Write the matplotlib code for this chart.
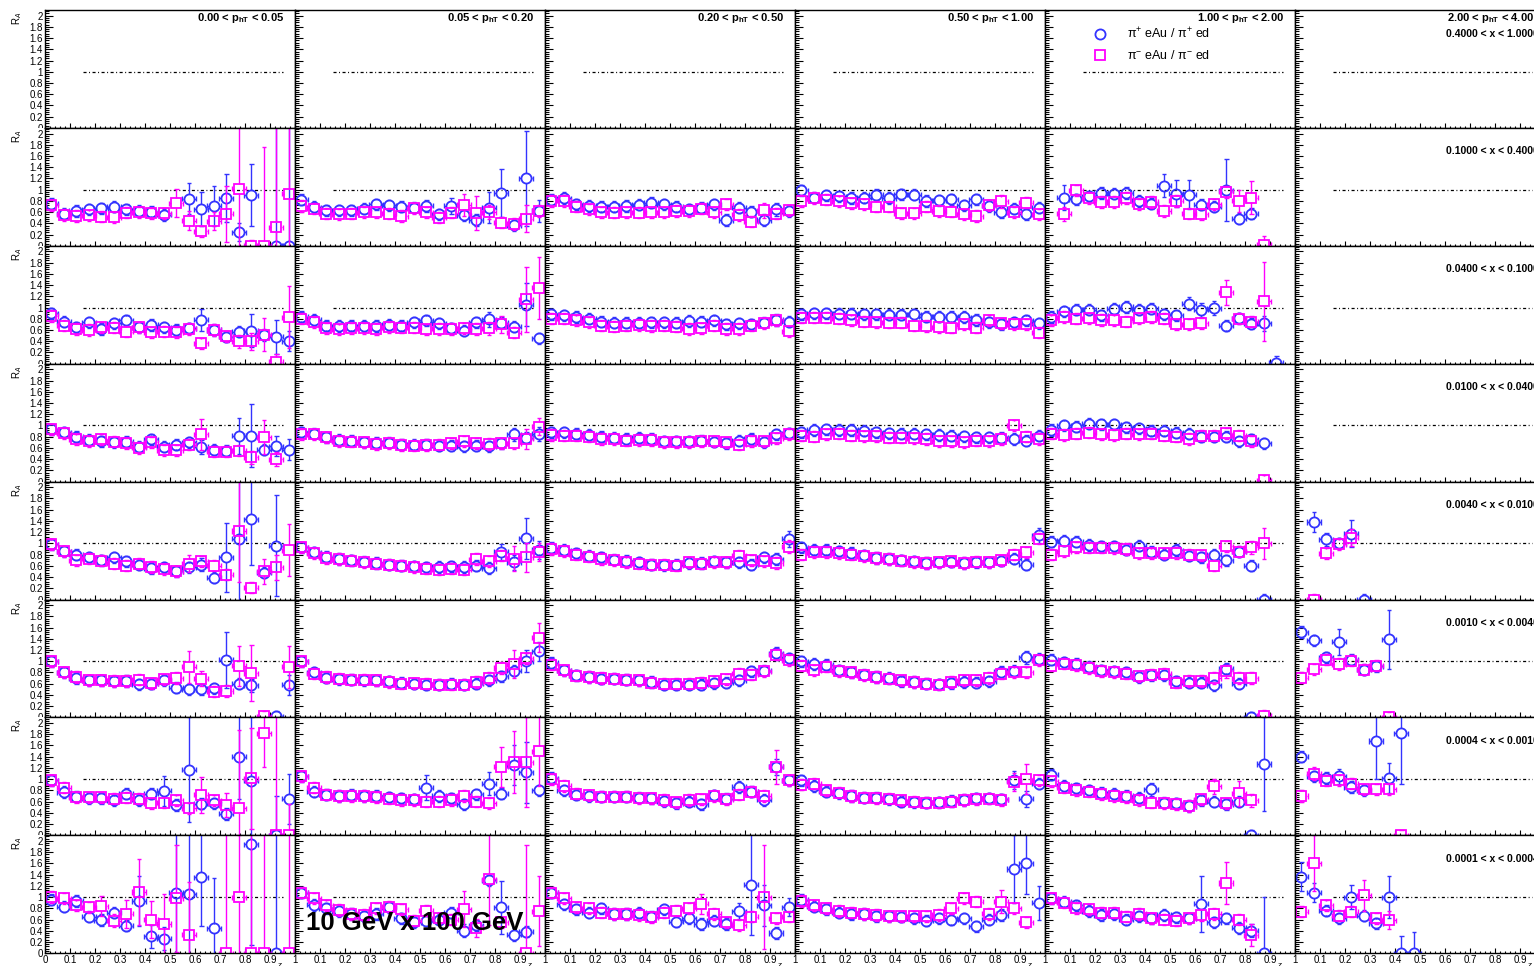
import numpy as np
import matplotlib
matplotlib.use('Agg')
import matplotlib.pyplot as plt
from matplotlib.lines import Line2D
from matplotlib.transforms import Bbox, TransformedBbox

plt.rcParams['font.family'] = ['Liberation Sans', 'DejaVu Sans']
plt.rcParams['mathtext.fontset'] = 'custom'
plt.rcParams['mathtext.rm'] = 'Liberation Sans'
plt.rcParams['mathtext.bf'] = 'Liberation Sans:bold'
plt.rcParams['mathtext.it'] = 'Liberation Sans:italic'
plt.rcParams['lines.scale_dashes'] = False

nan = np.nan

# ---- data -------------------------------------------------------------
z_centers = [0.025, 0.075, 0.125, 0.175, 0.225, 0.275, 0.325, 0.375, 0.425, 0.475,
             0.525, 0.575, 0.625, 0.675, 0.725, 0.775, 0.825, 0.875, 0.925, 0.975]

pt_labels = [r'0.00 < p$_{\mathbf{hT}}$ < 0.05', r'0.05 < p$_{\mathbf{hT}}$ < 0.20',
             r'0.20 < p$_{\mathbf{hT}}$ < 0.50', r'0.50 < p$_{\mathbf{hT}}$ < 1.00',
             r'1.00 < p$_{\mathbf{hT}}$ < 2.00', r'2.00 < p$_{\mathbf{hT}}$ < 4.00']

x_labels = ['0.4000 < x < 1.0000', '0.1000 < x < 0.4000', '0.0400 < x < 0.1000',
            '0.0100 < x < 0.0400', '0.0040 < x < 0.0100', '0.0010 < x < 0.0040',
            '0.0004 < x < 0.0010', '0.0001 < x < 0.0004']

series_labels = ['π$^{+}$ eAu / π$^{+}$ ed', 'π$^{-}$ eAu / π$^{-}$ ed']

E = [nan] * 20  # empty pT bin

# R_A for pi+ (eAu/ed), one list of 20 z-bins per pT bin
pip_x0 = [E, E, E, E, E, E]
pip_x1 = [
    [0.75, 0.57, 0.62, 0.65, 0.67, 0.70, 0.65, 0.62, 0.61, 0.55, nan, 0.84, 0.65, 0.71, 0.85, 0.24, 0.90, nan, 0.0, 0.0],
    [0.82, 0.69, 0.63, 0.63, 0.63, 0.66, 0.74, 0.72, 0.70, 0.68, 0.71, 0.56, 0.71, 0.54, 0.46, 0.68, 0.94, 0.37, 1.20, 0.62],
    [0.82, 0.85, 0.74, 0.71, 0.70, 0.70, 0.71, 0.73, 0.77, 0.74, 0.70, 0.65, 0.68, 0.74, 0.46, 0.68, 0.61, 0.46, 0.65, 0.62],
    [0.99, 0.86, 0.90, 0.88, 0.85, 0.86, 0.91, 0.85, 0.92, 0.91, 0.80, 0.81, 0.83, 0.72, 0.83, 0.71, 0.60, 0.66, 0.56, 0.68],
    [nan, 0.86, 0.83, 0.88, 0.94, 0.93, 0.94, 0.80, 0.75, 1.07, 0.93, 0.91, 0.73, 0.70, 0.99, 0.48, 0.57, nan, nan, nan],
    E]
pip_x2 = [
    [0.90, 0.75, 0.65, 0.74, 0.62, 0.72, 0.77, 0.65, 0.69, 0.65, 0.60, 0.63, 0.78, 0.60, 0.48, 0.57, 0.59, 0.51, 0.48, 0.40],
    [0.84, 0.78, 0.68, 0.67, 0.68, 0.67, 0.67, 0.69, 0.68, 0.74, 0.77, 0.72, 0.63, 0.59, 0.74, 0.79, 0.73, 0.66, 1.05, 0.45],
    [0.88, 0.86, 0.83, 0.80, 0.75, 0.73, 0.73, 0.73, 0.74, 0.74, 0.73, 0.76, 0.75, 0.77, 0.70, 0.72, 0.70, 0.73, 0.78, 0.75],
    [0.88, 0.90, 0.90, 0.89, 0.89, 0.88, 0.88, 0.87, 0.87, 0.88, 0.84, 0.84, 0.84, 0.83, 0.78, 0.74, 0.70, 0.74, 0.77, 0.72],
    [0.83, 0.93, 0.96, 0.96, 0.86, 0.98, 1.01, 0.96, 0.98, 0.88, 0.86, 1.07, 0.96, 0.99, 0.68, 0.81, 0.71, 0.72, 0.02, nan],
    E]
pip_x3 = [
    [0.93, 0.88, 0.80, 0.74, 0.72, 0.70, 0.71, 0.62, 0.75, 0.62, 0.66, 0.70, 0.62, 0.57, 0.55, 0.82, 0.82, 0.57, 0.63, 0.57],
    [0.88, 0.85, 0.79, 0.74, 0.73, 0.70, 0.69, 0.69, 0.66, 0.66, 0.66, 0.64, 0.64, 0.63, 0.64, 0.63, 0.68, 0.84, 0.78, 0.85],
    [0.88, 0.88, 0.85, 0.83, 0.80, 0.78, 0.76, 0.78, 0.76, 0.72, 0.72, 0.72, 0.73, 0.71, 0.68, 0.73, 0.76, 0.70, 0.84, 0.86],
    [0.88, 0.92, 0.93, 0.92, 0.92, 0.91, 0.88, 0.86, 0.85, 0.85, 0.84, 0.83, 0.82, 0.81, 0.79, 0.79, 0.78, 0.76, 0.73, 0.82],
    [0.92, 1.00, 0.98, 1.03, 1.02, 1.02, 0.97, 0.95, 0.91, 0.91, 0.87, 0.85, 0.80, 0.80, 0.80, 0.72, 0.75, 0.68, nan, nan],
    E]
pip_x4 = [
    [0.98, 0.86, 0.80, 0.75, 0.70, 0.75, 0.68, 0.62, 0.56, 0.57, 0.50, 0.57, 0.62, 0.39, 0.75, 1.08, 1.43, 0.48, 0.96, nan],
    [0.93, 0.84, 0.76, 0.72, 0.70, 0.67, 0.65, 0.62, 0.60, 0.59, 0.57, 0.58, 0.59, 0.58, 0.60, 0.56, 0.85, 0.66, 1.09, 0.89],
    [0.92, 0.88, 0.82, 0.78, 0.75, 0.71, 0.69, 0.66, 0.62, 0.61, 0.62, 0.65, 0.65, 0.68, 0.66, 0.66, 0.62, 0.75, 0.72, 1.08],
    [0.93, 0.89, 0.89, 0.86, 0.83, 0.79, 0.74, 0.72, 0.70, 0.68, 0.65, 0.66, 0.67, 0.65, 0.66, 0.66, 0.69, 0.73, 0.62, 1.14],
    [1.03, 1.05, 1.03, 0.97, 0.95, 0.95, 0.89, 0.96, 0.85, 0.80, 0.88, 0.78, 0.75, 0.80, 0.70, 0.85, 0.60, 0.0, nan, nan],
    [nan, 1.38, 1.07, 1.00, 1.17, 0.0, nan, nan, nan, nan, nan, nan, nan, nan, nan, nan, nan, nan, nan, nan]]
pip_x5 = [
    [1.00, 0.80, 0.70, 0.66, 0.66, 0.64, 0.65, 0.59, 0.60, 0.66, 0.53, 0.50, 0.50, 0.52, 1.03, 0.60, 0.57, nan, 0.02, 0.58],
    [1.00, 0.80, 0.71, 0.68, 0.67, 0.66, 0.66, 0.64, 0.62, 0.60, 0.58, 0.58, 0.60, 0.58, 0.60, 0.66, 0.73, 0.83, 1.00, 1.18],
    [0.97, 0.84, 0.75, 0.72, 0.69, 0.69, 0.67, 0.66, 0.63, 0.58, 0.58, 0.58, 0.58, 0.61, 0.62, 0.66, 0.82, 0.83, 1.14, 1.05],
    [1.00, 0.95, 0.94, 0.84, 0.80, 0.76, 0.72, 0.70, 0.64, 0.63, 0.60, 0.59, 0.61, 0.63, 0.62, 0.64, 0.81, 0.83, 1.07, 1.04],
    [1.03, 0.98, 0.96, 0.90, 0.84, 0.82, 0.80, 0.72, 0.75, 0.75, 0.64, 0.62, 0.62, 0.57, 0.87, 0.60, 0.0, nan, nan, nan],
    [1.52, 1.37, 1.07, 1.35, 1.03, 0.85, 0.91, 1.39, nan, nan, nan, nan, nan, nan, nan, nan, nan, nan, nan, nan]]
pip_x6 = [
    [0.98, 0.77, 0.69, 0.66, 0.66, 0.62, 0.74, 0.63, 0.74, 0.79, 0.54, 1.17, 0.56, 0.57, 0.38, 1.40, 0.97, nan, 0.0, 0.65],
    [1.05, 0.78, 0.72, 0.70, 0.72, 0.70, 0.70, 0.68, 0.66, 0.64, 0.85, 0.70, 0.66, 0.55, 0.73, 0.92, 0.74, 1.25, 1.12, 0.80],
    [1.02, 0.80, 0.72, 0.70, 0.69, 0.69, 0.69, 0.67, 0.66, 0.61, 0.57, 0.60, 0.55, 0.71, 0.65, 0.86, 0.78, 0.63, 1.22, 0.98],
    [0.98, 0.88, 0.78, 0.75, 0.70, 0.67, 0.67, 0.64, 0.60, 0.59, 0.58, 0.59, 0.61, 0.63, 0.66, 0.66, 0.64, 0.98, 0.65, 0.92],
    [1.08, 0.88, 0.84, 0.80, 0.76, 0.74, 0.70, 0.67, 0.82, 0.58, 0.57, 0.52, 0.62, 0.60, 0.55, 0.60, 0.0, 1.27, nan, nan],
    [1.40, 1.05, 1.02, 1.05, 0.86, 0.80, 1.68, 1.02, 1.82, nan, nan, nan, nan, nan, nan, nan, nan, nan, nan, nan]]
pip_x7 = [
    [0.95, 0.83, 0.93, 0.65, 0.59, 0.72, 0.49, 0.93, 0.30, 0.26, 1.08, 1.05, 1.35, 0.44, nan, nan, 1.94, nan, 0.0, nan],
    [1.08, 0.86, 0.80, 0.75, 0.70, 0.66, 0.70, 0.82, 0.62, 0.55, 0.58, 0.60, 0.72, 0.40, 0.50, 1.30, 0.82, 0.33, 0.38, nan],
    [1.08, 0.87, 0.78, 0.72, 0.80, 0.70, 0.70, 0.72, 0.65, 0.78, 0.56, 0.62, 0.52, 0.58, 0.52, 0.75, 1.22, 0.85, 0.36, 0.82],
    [0.95, 0.83, 0.78, 0.72, 0.70, 0.70, 0.66, 0.66, 0.65, 0.62, 0.58, 0.62, 0.60, 0.62, 0.48, 0.60, 0.68, 1.50, 1.60, 0.90],
    [0.98, 0.92, 0.85, 0.75, 0.68, 0.70, 0.60, 0.66, 0.62, 0.68, 0.64, 0.62, 0.88, 0.55, 0.62, 0.45, 0.40, 0.0, nan, nan],
    [1.36, 1.08, 0.76, 0.62, 1.00, 0.67, 0.53, 1.00, 0.0, 0.0, nan, nan, nan, nan, nan, nan, nan, nan, nan, nan]]

# R_A for pi- (eAu/ed)
pim_x0 = [E, E, E, E, E, E]
pim_x1 = [
    [0.72, 0.55, 0.53, 0.54, 0.52, 0.51, 0.59, 0.60, 0.58, 0.58, 0.76, 0.45, 0.26, 0.44, 0.57, 1.02, 0.0, 0.0, 0.33, 0.93],
    [0.71, 0.66, 0.57, 0.56, 0.57, 0.60, 0.60, 0.57, 0.53, 0.67, 0.60, 0.50, 0.59, 0.73, 0.58, 0.60, 0.41, 0.39, 0.48, 0.62],
    [0.80, 0.80, 0.70, 0.65, 0.60, 0.59, 0.60, 0.59, 0.60, 0.60, 0.62, 0.62, 0.66, 0.60, 0.74, 0.55, 0.43, 0.63, 0.57, 0.63],
    [0.80, 0.85, 0.82, 0.79, 0.76, 0.74, 0.70, 0.70, 0.58, 0.58, 0.70, 0.62, 0.61, 0.56, 0.53, 0.72, 0.79, 0.60, 0.77, 0.56],
    [nan, 0.57, 0.99, 0.85, 0.78, 0.78, 0.85, 0.74, 0.78, 0.62, 0.80, 0.57, 0.56, 0.74, 0.96, 0.80, 0.86, 0.02, nan, nan],
    E]
pim_x2 = [
    [0.85, 0.68, 0.62, 0.60, 0.65, 0.64, 0.57, 0.65, 0.56, 0.57, 0.56, 0.62, 0.36, 0.60, 0.49, 0.40, 0.40, 0.52, 0.03, 0.83],
    [0.80, 0.74, 0.63, 0.61, 0.63, 0.63, 0.62, 0.65, 0.64, 0.64, 0.61, 0.62, 0.62, 0.63, 0.62, 0.63, 0.70, 0.55, 1.15, 1.35],
    [0.80, 0.80, 0.77, 0.74, 0.68, 0.66, 0.68, 0.69, 0.67, 0.68, 0.66, 0.62, 0.63, 0.68, 0.62, 0.62, 0.68, 0.72, 0.77, 0.58],
    [0.82, 0.82, 0.82, 0.80, 0.77, 0.75, 0.74, 0.73, 0.73, 0.68, 0.67, 0.65, 0.64, 0.70, 0.64, 0.77, 0.72, 0.70, 0.70, 0.55],
    [0.77, 0.83, 0.80, 0.81, 0.78, 0.77, 0.75, 0.81, 0.83, 0.80, 0.70, 0.70, 0.72, nan, 1.27, 0.80, 0.75, 1.11, nan, nan],
    E]
pim_x3 = [
    [0.93, 0.86, 0.75, 0.72, 0.75, 0.71, 0.68, 0.60, 0.70, 0.56, 0.56, 0.66, 0.84, 0.53, 0.53, 0.55, 0.43, 0.79, 0.40, nan],
    [0.84, 0.84, 0.79, 0.72, 0.71, 0.70, 0.67, 0.68, 0.65, 0.64, 0.65, 0.66, 0.68, 0.72, 0.68, 0.67, 0.68, 0.68, 0.76, 0.98],
    [0.83, 0.82, 0.82, 0.80, 0.76, 0.76, 0.73, 0.74, 0.74, 0.70, 0.70, 0.70, 0.72, 0.72, 0.70, 0.66, 0.72, 0.72, 0.77, 0.84],
    [0.82, 0.80, 0.84, 0.85, 0.82, 0.81, 0.81, 0.78, 0.78, 0.77, 0.76, 0.72, 0.72, 0.70, 0.73, 0.72, 0.76, 1.00, 0.80, 0.76],
    [0.85, 0.83, 0.85, 0.87, 0.84, 0.83, 0.85, 0.84, 0.85, 0.82, 0.80, 0.76, 0.82, 0.82, 0.86, 0.82, 0.72, 0.02, nan, nan],
    E]
pim_x4 = [
    [0.98, 0.86, 0.70, 0.73, 0.69, 0.64, 0.60, 0.64, 0.58, 0.54, 0.50, 0.64, 0.68, 0.60, 0.44, 1.22, 0.21, 0.50, 0.57, 0.88],
    [0.93, 0.82, 0.74, 0.72, 0.69, 0.66, 0.64, 0.62, 0.60, 0.57, 0.55, 0.53, 0.55, 0.53, 0.72, 0.68, 0.78, 0.73, 0.75, 0.85],
    [0.90, 0.86, 0.80, 0.76, 0.72, 0.70, 0.66, 0.64, 0.62, 0.62, 0.60, 0.66, 0.64, 0.66, 0.66, 0.78, 0.70, 0.68, 0.65, 0.94],
    [0.80, 0.84, 0.84, 0.82, 0.80, 0.77, 0.74, 0.72, 0.69, 0.66, 0.65, 0.66, 0.68, 0.65, 0.67, 0.66, 0.70, 0.80, 0.84, 1.08],
    [0.80, 0.86, 0.93, 0.92, 0.92, 0.91, 0.90, 0.82, 0.82, 0.82, 0.83, 0.80, 0.79, 0.60, 0.95, 0.85, 0.93, 1.00, nan, nan],
    [nan, 0.0, 0.82, 0.98, 1.10, nan, nan, nan, nan, nan, nan, nan, nan, nan, nan, nan, nan, nan, nan, nan]]
pim_x5 = [
    [1.00, 0.80, 0.72, 0.66, 0.66, 0.65, 0.65, 0.67, 0.61, 0.68, 0.70, 0.90, 0.69, 0.46, 0.47, 0.92, 0.79, 0.02, nan, 0.90],
    [1.00, 0.78, 0.72, 0.69, 0.67, 0.67, 0.66, 0.63, 0.60, 0.61, 0.60, 0.58, 0.58, 0.58, 0.63, 0.70, 0.88, 0.95, 1.05, 1.42],
    [0.94, 0.84, 0.74, 0.72, 0.70, 0.69, 0.67, 0.66, 0.62, 0.60, 0.60, 0.60, 0.62, 0.64, 0.68, 0.78, 0.76, 0.82, 1.12, 1.02],
    [0.92, 0.84, 0.90, 0.82, 0.80, 0.75, 0.72, 0.69, 0.66, 0.63, 0.60, 0.58, 0.63, 0.66, 0.66, 0.70, 0.78, 0.80, 0.80, 1.02],
    [0.92, 0.96, 0.93, 0.88, 0.82, 0.80, 0.78, 0.73, 0.76, 0.78, 0.62, 0.65, 0.65, 0.70, 0.82, 0.70, 0.70, 0.03, nan, nan],
    [0.71, 0.86, 1.03, 0.95, 1.01, 0.85, 0.92, 0.0, nan, nan, nan, nan, nan, nan, nan, nan, nan, nan, nan, nan]]
pim_x6 = [
    [0.98, 0.85, 0.68, 0.68, 0.68, 0.65, 0.67, 0.65, 0.57, 0.58, 0.62, 0.48, 0.72, 0.62, 0.54, 0.48, 1.02, 1.82, 0.0, 0.0],
    [1.05, 0.85, 0.72, 0.70, 0.70, 0.70, 0.68, 0.65, 0.63, 0.63, 0.60, 0.60, 0.63, 0.70, 0.60, 0.57, 1.22, 1.30, 1.30, 1.50],
    [1.00, 0.88, 0.74, 0.71, 0.69, 0.69, 0.69, 0.66, 0.66, 0.63, 0.59, 0.63, 0.64, 0.70, 0.64, 0.72, 0.78, 0.70, 1.22, 0.98],
    [0.90, 0.92, 0.80, 0.76, 0.70, 0.67, 0.66, 0.65, 0.62, 0.60, 0.58, 0.58, 0.60, 0.63, 0.64, 0.65, 0.63, 0.95, 1.00, 0.98],
    [0.96, 0.85, 0.80, 0.78, 0.73, 0.70, 0.68, 0.62, 0.58, 0.57, 0.55, 0.52, 0.64, 0.87, 0.57, 0.75, 0.62, nan, nan, nan],
    [0.70, 1.10, 0.97, 0.98, 0.92, 0.82, 0.82, 0.82, 0.0, nan, nan, nan, nan, nan, nan, nan, nan, nan, nan, nan]]
pim_x7 = [
    [1.00, 0.98, 0.85, 0.82, 0.84, 0.58, 0.70, 1.09, 0.60, 0.52, 0.98, 0.33, nan, nan, 0.0, 1.00, 0.0, 0.0, nan, 0.0],
    [1.08, 0.98, 0.85, 0.77, 0.70, 0.68, 0.80, 0.83, 0.78, 0.58, 0.76, 0.62, 0.60, 0.78, 0.45, 1.32, 0.55, nan, 0.0, 0.75],
    [1.08, 0.98, 0.82, 0.80, 0.72, 0.70, 0.70, 0.68, 0.64, 0.72, 0.76, 0.80, 0.88, 0.70, 0.55, 0.50, 0.65, 1.00, 0.62, 0.65],
    [0.93, 0.85, 0.80, 0.75, 0.72, 0.70, 0.68, 0.66, 0.66, 0.66, 0.66, 0.68, 0.80, 0.98, 0.92, 0.70, 0.92, 0.80, 0.55, nan],
    [0.98, 0.90, 0.80, 0.78, 0.72, 0.72, 0.65, 0.70, 0.62, 0.60, 0.58, 0.62, 0.68, 0.70, 1.25, 0.60, 0.32, nan, nan, nan],
    [0.74, 1.60, 0.85, 0.67, 0.74, 1.03, 0.62, 0.59, nan, nan, nan, nan, nan, nan, nan, nan, nan, nan, nan, nan]]

# statistical errors; points not listed carry the typical error
typical_err = 0.10
err_pip_x1 = {(0, 11): 0.27, (0, 12): 0.3, (0, 13): 0.36, (0, 14): 0.42, (0, 15): 0.16, (0, 16): 0.55,
              (0, 18): 2.2, (0, 19): 2.2, (1, 12): 0.14, (1, 15): 0.28, (1, 16): 0.42, (1, 18): 0.85,
              (1, 19): 0.2, (2, 18): 0.12, (4, 1): 0.22, (4, 9): 0.2, (4, 10): 0.24, (4, 11): 0.26, (4, 14): 0.55}
err_pim_x1 = {(0, 10): 0.25, (0, 11): 0.17, (0, 13): 0.16, (0, 14): 0.5, (0, 15): 1.1, (0, 17): 1.76,
              (0, 18): 1.8, (0, 19): 1.2, (1, 13): 0.2, (1, 14): 0.3, (1, 15): 0.13, (1, 18): 0.24,
              (2, 17): 0.13, (3, 16): 0.12, (4, 1): 0.12, (4, 15): 0.2, (4, 16): 0.3, (4, 17): 0.16}
err_pip_x2 = {(0, 12): 0.2, (0, 16): 0.3, (0, 18): 0.3, (0, 19): 0.18, (1, 15): 0.13, (1, 18): 0.38,
              (4, 11): 0.12, (4, 12): 0.12, (4, 13): 0.12, (4, 17): 0.13, (4, 18): 0.12}
err_pim_x2 = {(0, 15): 0.12, (0, 16): 0.15, (0, 17): 0.3, (0, 18): 0.15, (0, 19): 0.55, (1, 15): 0.12,
              (1, 16): 0.15, (1, 18): 0.58, (1, 19): 0.55, (4, 14): 0.22, (4, 17): 0.7}
err_pip_x3 = {(0, 12): 0.12, (0, 15): 0.32, (0, 16): 0.56, (0, 18): 0.18, (0, 19): 0.18, (1, 17): 0.12,
              (1, 19): 0.13}
err_pim_x3 = {(0, 12): 0.27, (0, 16): 0.12, (0, 17): 0.3, (0, 18): 0.12, (1, 18): 0.18, (1, 19): 0.15}
err_pip_x4 = {(0, 12): 0.12, (0, 14): 0.62, (0, 15): 1.1, (0, 16): 0.82, (0, 18): 0.9, (1, 16): 0.14,
              (1, 17): 0.13, (1, 18): 0.36, (1, 19): 0.16, (2, 19): 0.14, (3, 19): 0.13, (5, 1): 0.17,
              (5, 2): 0.12, (5, 4): 0.24}
err_pim_x4 = {(0, 11): 0.15, (0, 15): 0.9, (0, 17): 0.22, (0, 18): 0.22, (0, 19): 0.47, (1, 17): 0.22,
              (1, 18): 0.26, (1, 19): 0.16, (2, 19): 0.12, (4, 16): 0.12, (4, 17): 0.27, (5, 4): 0.15}
err_pip_x5 = {(0, 14): 0.5, (0, 16): 0.12, (0, 19): 0.18, (1, 18): 0.2, (1, 19): 0.17, (2, 18): 0.12,
              (3, 18): 0.12, (5, 3): 0.23, (5, 7): 0.52}
err_pim_x5 = {(0, 11): 0.28, (0, 12): 0.13, (0, 15): 0.36, (0, 16): 0.5, (0, 19): 0.38, (1, 17): 0.25,
              (1, 19): 0.26, (4, 14): 0.12}
err_pip_x6 = {(0, 9): 0.27, (0, 11): 0.93, (0, 15): 0.75, (0, 16): 1.13, (0, 18): 0.7, (0, 19): 0.45,
              (1, 10): 0.22, (1, 15): 0.2, (1, 17): 0.35, (1, 18): 0.55, (2, 18): 0.14, (3, 17): 0.16,
              (3, 18): 0.14, (4, 8): 0.12, (4, 17): 0.83, (5, 3): 0.13, (5, 6): 0.68, (5, 7): 0.27, (5, 8): 0.9}
err_pim_x6 = {(0, 12): 0.32, (0, 14): 0.22, (0, 15): 1.4, (0, 16): 0.9, (0, 17): 0.6, (0, 18): 2.2,
              (0, 19): 0.55, (1, 16): 0.36, (1, 17): 0.55, (1, 18): 0.8, (1, 19): 0.62, (2, 18): 0.3,
              (3, 17): 0.16, (3, 18): 0.27, (4, 13): 0.13, (4, 15): 0.22, (4, 16): 0.12, (5, 1): 0.12}
err_pip_x7 = {(0, 7): 0.45, (0, 8): 0.2, (0, 9): 0.2, (0, 10): 1.1, (0, 11): 1.1, (0, 12): 0.86,
              (0, 13): 0.9, (0, 16): 1.8, (0, 18): 2.2, (1, 13): 0.12, (1, 16): 0.47, (1, 17): 0.12,
              (2, 15): 0.14, (2, 16): 0.9, (2, 17): 0.36, (2, 19): 0.16, (3, 17): 0.6, (3, 18): 0.55,
              (3, 19): 0.3, (4, 12): 0.5, (4, 16): 0.12, (4, 17): 1.0, (5, 0): 0.26, (5, 1): 0.17,
              (5, 4): 0.22, (5, 7): 0.38, (5, 8): 0.3, (5, 9): 0.38}
err_pim_x7 = {(0, 4): 0.17, (0, 5): 0.12, (0, 6): 0.25, (0, 7): 0.58, (0, 8): 0.33, (0, 9): 0.53,
              (0, 10): 0.95, (0, 11): 0.93, (0, 14): 2.2, (0, 15): 1.1, (0, 16): 2.2, (0, 17): 2.2,
              (0, 19): 2.2, (1, 13): 0.32, (1, 14): 0.16, (1, 15): 0.82, (1, 18): 1.92, (1, 19): 0.62,
              (2, 12): 0.18, (2, 17): 0.92, (3, 16): 0.2, (4, 14): 0.38, (4, 16): 0.2, (5, 1): 0.5,
              (5, 5): 0.28, (5, 7): 0.16}

pip_rows = [pip_x0, pip_x1, pip_x2, pip_x3, pip_x4, pip_x5, pip_x6, pip_x7]
pim_rows = [pim_x0, pim_x1, pim_x2, pim_x3, pim_x4, pim_x5, pim_x6, pim_x7]
err_pip_rows = [{}, err_pip_x1, err_pip_x2, err_pip_x3, err_pip_x4, err_pip_x5, err_pip_x6, err_pip_x7]
err_pim_rows = [{}, err_pim_x1, err_pim_x2, err_pim_x3, err_pim_x4, err_pim_x5, err_pim_x6, err_pim_x7]

# ---- style ------------------------------------------------------------
BLUE = '#3333ff'
MAGENTA = '#ff00ff'
XERR = 0.028           # horizontal error half width (z)
GAP_X, GAP_Y = 0.021, 0.088   # marker half size in data units (error bars stop there)
CAP_X, CAP_Y = 0.009, 0.045
REF_Z = [0.15, 0.95]   # extent of the R_A = 1 reference line

W, H = 1534, 966
LEFT, TOP, PW, PH = 45, 10, 250, 117.9


def draw_series(ax, vals, errs, color, marker, ms):
    z = np.array(z_centers)
    v = np.array(vals, dtype=float)
    e = np.array(errs, dtype=float)
    ok = ~np.isnan(v)
    z, v, e = z[ok], v[ok], e[ok]
    if len(z) == 0:
        return
    kw = dict(color=color, lw=1.0)
    up = e > GAP_Y
    ax.vlines(z[up], v[up] + GAP_Y, v[up] + e[up], **kw)
    ax.vlines(z[up], v[up] - e[up], v[up] - GAP_Y, **kw)
    ax.hlines(np.r_[v - e, v + e], np.r_[z, z] - CAP_X, np.r_[z, z] + CAP_X, **kw)
    ax.hlines(v, z + GAP_X, z + XERR, **kw)
    ax.hlines(v, z - XERR, z - GAP_X, **kw)
    ax.vlines(np.r_[z - XERR, z + XERR], np.r_[v, v] - CAP_Y, np.r_[v, v] + CAP_Y, **kw)
    ax.plot(z, v, ls='none', marker=marker, ms=ms, mfc='none', mec=color, mew=1.3)


fig = plt.figure(figsize=(W / 100, H / 100), dpi=100)

yticks = [0, 0.2, 0.4, 0.6, 0.8, 1, 1.2, 1.4, 1.6, 1.8, 2]
ytick_labels = ['0', '0.2', '0.4', '0.6', '0.8', '1', '1.2', '1.4', '1.6', '1.8', '2']
xticks = [0, 0.1, 0.2, 0.3, 0.4, 0.5, 0.6, 0.7, 0.8, 0.9, 1]
xtick_labels = ['0', '0.1', '0.2', '0.3', '0.4', '0.5', '0.6', '0.7', '0.8', '0.9', '1']

for r in range(8):
    for c in range(6):
        y0 = 1 - (TOP + PH * (r + 1)) / H
        ax = fig.add_axes([(LEFT + PW * c) / W, y0, PW / W, PH / H])
        ax.set_xlim(0, 1)
        ax.set_ylim(0, 2.1)
        for s in ax.spines.values():
            s.set_linewidth(1.0)

        ax.set_yticks(yticks)
        ax.set_yticks(np.arange(0, 2.1, 0.04), minor=True)
        ax.set_xticks(xticks)
        ax.set_xticks(np.arange(0, 1.001, 0.02), minor=True)
        ax.tick_params(direction='in', which='both', top=False, right=False, width=0.8)
        ax.tick_params(axis='y', which='major', length=5.5, pad=1.5, labelsize=7)
        ax.tick_params(axis='y', which='minor', length=2.8)
        ax.tick_params(axis='x', which='major', length=3.5, pad=1.5, labelsize=7)
        ax.tick_params(axis='x', which='minor', length=1.8)

        if c == 0:
            ax.set_yticklabels(ytick_labels)
            if r < 7:
                # the pad below covers the lower half of the "0" label, as in the original
                zero = ax.get_yticklabels()[0]
                zero.set_clip_box(TransformedBbox(Bbox.from_extents(0, y0, 1, 1), fig.transFigure))
                zero.set_clip_on(True)
            ax.text(-0.112, 0.985, r'R$_{A}$', transform=ax.transAxes, rotation=90,
                    ha='center', va='top', fontsize=7)
        else:
            ax.set_yticklabels([])
        if r == 7:
            ax.set_xticklabels(xtick_labels if c == 0 else [''] + xtick_labels[1:])
            ax.text(0.94, -0.075, 'z', transform=ax.transAxes, ha='center', va='top', fontsize=6)
        else:
            ax.set_xticklabels([])

        ax.plot(REF_Z, [1, 1], color='black', lw=0.9, dashes=(2.2, 1.8, 0.7, 1.8))

        ep = [err_pip_rows[r].get((c, k), typical_err) for k in range(20)]
        em = [err_pim_rows[r].get((c, k), typical_err) for k in range(20)]
        draw_series(ax, pip_rows[r][c], ep, BLUE, 'o', 7.3)
        draw_series(ax, pim_rows[r][c], em, MAGENTA, 's', 6.6)

        if r == 0:
            ax.text(0.955, 0.905, pt_labels[c], transform=ax.transAxes, ha='right',
                    va='baseline', fontsize=8, fontweight='bold')
        if c == 5:
            ax.text(0.975, 0.80, x_labels[r], transform=ax.transAxes,
                    ha='right', va='center', fontsize=7.5, fontweight='bold')
        if r == 0 and c == 4:
            handles = [Line2D([], [], ls='none', marker='o', ms=7.3, mfc='none', mec=BLUE, mew=1.3),
                       Line2D([], [], ls='none', marker='s', ms=6.6, mfc='none', mec=MAGENTA, mew=1.3)]
            ax.legend(handles, series_labels,
                      loc='upper left', bbox_to_anchor=(0.17, 0.86), borderaxespad=0, borderpad=0,
                      frameon=False, fontsize=9, handlelength=2.0, handletextpad=1.16,
                      labelspacing=0.6)
        if r == 7 and c == 1:
            ax.text(0.044, 0.195, '10 GeV x 100 GeV', transform=ax.transAxes, ha='left',
                    va='baseline', fontsize=18.5, fontweight='bold', zorder=10)

fig.savefig('out.png', dpi=100)
